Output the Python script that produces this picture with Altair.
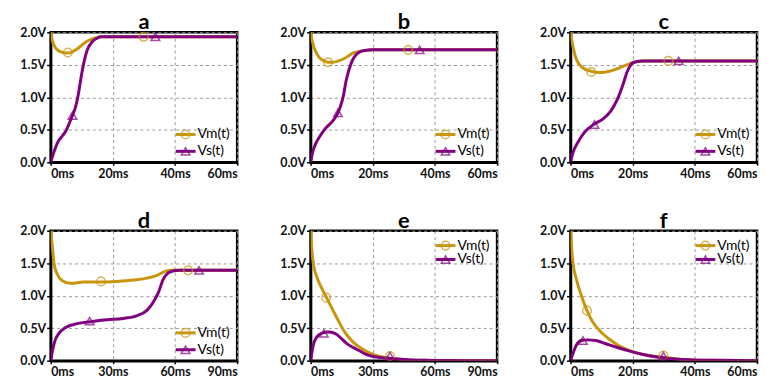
import altair as alt
import pandas as pd

GOLD = "#C8960C"
PURPLE = "#800080"

# ---- panel a ----
a_vm_t = [0, 0.5, 1.3, 2.8, 4, 5.5, 7, 8.1, 9.5, 10.7, 12, 13.4, 15, 16, 18, 20, 60]
a_vm_v = [2.0, 1.88, 1.78, 1.71, 1.69, 1.68, 1.70, 1.73, 1.78, 1.83, 1.87, 1.90, 1.92, 1.93, 1.93, 1.93, 1.93]
a_vs_t = [0, 1, 2.3, 4, 4.9, 6, 7, 8, 8.8, 9.5, 10.2, 11, 11.8, 12.8, 13.9, 15, 16, 18, 20, 60]
a_vs_v = [0, 0.15, 0.31, 0.42, 0.48, 0.60, 0.72, 0.85, 1.02, 1.22, 1.42, 1.60, 1.73, 1.82, 1.88, 1.91, 1.93, 1.93, 1.93, 1.93]
a_vm_mark_t = [5.5, 29.9]
a_vm_mark_v = [1.69, 1.93]
a_vs_mark_t = [7, 33.7]
a_vs_mark_v = [0.72, 1.93]

# ---- panel b ----
b_vm_t = [0, 0.6, 1.4, 3, 4, 5.6, 7, 8.3, 11, 13.6, 16.3, 18, 20, 60]
b_vm_v = [2.0, 1.85, 1.73, 1.60, 1.57, 1.54, 1.54, 1.55, 1.60, 1.68, 1.71, 1.72, 1.73, 1.73]
b_vs_t = [0, 0.8, 1.9, 3, 4.6, 7.2, 8.8, 9.6, 10.4, 11.5, 13.1, 15.2, 17.3, 20, 60]
b_vs_v = [0, 0.18, 0.31, 0.40, 0.51, 0.64, 0.76, 0.86, 0.99, 1.27, 1.53, 1.68, 1.72, 1.73, 1.73]
b_vm_mark_t = [5.6, 31.4]
b_vm_mark_v = [1.54, 1.73]
b_vs_mark_t = [8.8, 35.1]
b_vs_mark_v = [0.76, 1.73]

# ---- panel c ----
c_vm_t = [0, 0.8, 1.9, 4, 6.7, 9.3, 12.5, 15.6, 18.8, 21.4, 23, 60]
c_vm_v = [2.0, 1.78, 1.58, 1.45, 1.40, 1.38, 1.40, 1.45, 1.51, 1.55, 1.56, 1.56]
c_vs_t = [0, 0.8, 2.4, 4.5, 7.7, 10.3, 13, 15.1, 16.7, 18.3, 20, 21.5, 23, 60]
c_vs_v = [0, 0.15, 0.31, 0.46, 0.59, 0.66, 0.79, 0.97, 1.17, 1.40, 1.53, 1.55, 1.56, 1.56]
c_vm_mark_t = [6.7, 31.5]
c_vm_mark_v = [1.39, 1.56]
c_vs_mark_t = [7.7, 34.8]
c_vs_mark_v = [0.58, 1.56]

# ---- panel d ----
d_vm_t = [0, 0.8, 1.6, 3.2, 5.6, 9.6, 16, 24, 32, 40, 46.3, 51, 55, 58.3, 60, 90]
d_vm_v = [2.0, 1.76, 1.50, 1.33, 1.23, 1.19, 1.21, 1.21, 1.22, 1.24, 1.27, 1.31, 1.37, 1.39, 1.39, 1.39]
d_vs_t = [0, 0.8, 1.9, 4, 7.2, 12.8, 19.2, 27, 35, 41.5, 46.3, 49.5, 52, 54.3, 56.7, 59, 62, 90]
d_vs_v = [0, 0.14, 0.29, 0.42, 0.51, 0.57, 0.60, 0.63, 0.65, 0.69, 0.77, 0.90, 1.05, 1.25, 1.35, 1.38, 1.39, 1.39]
d_vm_mark_t = [24.3, 66.3]
d_vm_mark_v = [1.22, 1.39]
d_vs_mark_t = [18.8, 71.6]
d_vs_mark_v = [0.61, 1.39]

# ---- panel e ----
e_vm_t = [0, 0.5, 1.3, 2.9, 5.3, 7.7, 10.1, 13.3, 16.5, 20.4, 24.4, 29.2, 34, 38.8, 46.8, 55, 65, 90]
e_vm_v = [2.0, 1.76, 1.50, 1.30, 1.12, 0.97, 0.82, 0.62, 0.44, 0.29, 0.19, 0.11, 0.06, 0.035, 0.015, 0.006, 0.002, 0]
e_vs_t = [0, 1.3, 2.9, 5.3, 8.5, 11.7, 14.9, 18, 22, 26, 30.8, 38.8, 46.8, 55, 65, 90]
e_vs_v = [0, 0.24, 0.36, 0.42, 0.44, 0.42, 0.34, 0.25, 0.18, 0.11, 0.06, 0.035, 0.015, 0.006, 0.002, 0]
e_vm_mark_t = [7.5, 38.3]
e_vm_mark_v = [0.97, 0.07]
e_vs_mark_t = [6.4, 38.3]
e_vs_mark_v = [0.42, 0.07]

# ---- panel f ----
f_vm_t = [0, 0.3, 0.8, 1.9, 3.5, 5.3, 7.2, 9.8, 12.5, 15.6, 19.9, 25.1, 29.9, 35.7, 45, 60]
f_vm_v = [2.0, 1.76, 1.50, 1.25, 1.00, 0.77, 0.59, 0.44, 0.33, 0.23, 0.14, 0.08, 0.05, 0.02, 0.005, 0]
f_vs_t = [0, 0.8, 1.9, 3.5, 5.6, 8.2, 11.4, 14.6, 18.8, 23, 27.2, 31.5, 37.8, 45, 60]
f_vs_v = [0, 0.11, 0.24, 0.31, 0.32, 0.31, 0.26, 0.21, 0.15, 0.10, 0.06, 0.035, 0.015, 0.005, 0]
f_vm_mark_t = [5.3, 29.9]
f_vm_mark_v = [0.77, 0.08]
f_vs_mark_t = [4.0, 29.9]
f_vs_mark_v = [0.31, 0.07]

SERIES = ["Vm(t)", "Vs(t)"]
Y_TICKS = [0, 0.5, 1, 1.5, 2]
W, H = 188, 131


def make_panel(title, xmax, xticks, vm_t, vm_v, vs_t, vs_v,
               vm_mt, vm_mv, vs_mt, vs_mv, legend_top):
    lines = pd.DataFrame({
        "t": vm_t + vs_t,
        "v": vm_v + vs_v,
        "s": [SERIES[0]] * len(vm_t) + [SERIES[1]] * len(vs_t),
    })
    x = alt.X("t:Q", scale=alt.Scale(domain=[0, xmax], nice=False),
              axis=alt.Axis(values=xticks, tickCount=len(xticks), labelOverlap=False,
                            labelExpr="datum.value + 'ms'", title=None))
    y = alt.Y("v:Q", scale=alt.Scale(domain=[0, 2], nice=False),
              axis=alt.Axis(values=Y_TICKS, tickCount=len(Y_TICKS), labelOverlap=False,
                            labelExpr="format(datum.value, '.1f') + 'V'", title=None))
    color = alt.Color("s:N", scale=alt.Scale(domain=SERIES, range=[GOLD, PURPLE]), legend=None)

    line = alt.Chart(lines).mark_line(strokeWidth=3, interpolate="monotone", clip=True).encode(
        x=x, y=y, color=color)
    circ = alt.Chart(pd.DataFrame({"t": vm_mt, "v": vm_mv})).mark_point(
        shape="circle", filled=False, size=75, strokeWidth=1.5, color=GOLD).encode(x="t:Q", y="v:Q")
    tri = alt.Chart(pd.DataFrame({"t": vs_mt, "v": vs_mv})).mark_point(
        shape="triangle-up", filled=False, size=75, strokeWidth=1.5, color=PURPLE).encode(x="t:Q", y="v:Q")

    if legend_top:
        y1, y2 = 15, 29
    else:
        y1, y2 = H - 28, H - 11
    one = pd.DataFrame({"k": [0]})
    leg = []
    for yy, col, shp, lab in [(y1, GOLD, "circle", SERIES[0]), (y2, PURPLE, "triangle-up", SERIES[1])]:
        leg.append(alt.Chart(one).mark_rule(color=col, strokeWidth=3).encode(
            x=alt.value(126), x2=alt.value(146), y=alt.value(yy)))
        leg.append(alt.Chart(one).mark_point(shape=shp, filled=False, size=75, strokeWidth=1.5,
                                             color=col).encode(x=alt.value(136), y=alt.value(yy)))
        leg.append(alt.Chart(one).mark_text(text=lab, align="left", baseline="middle", fontSize=14,
                                            font="Lato", color="#000").encode(
            x=alt.value(148), y=alt.value(yy)))

    return alt.layer(line, circ, tri, *leg).properties(
        width=W, height=H,
        title=alt.TitleParams(title, fontSize=22, font="Lato", fontWeight="bold", offset=-8, color="#000"),
    )


pa = make_panel("a", 60, [0, 20, 40, 60], a_vm_t, a_vm_v, a_vs_t, a_vs_v,
                a_vm_mark_t, a_vm_mark_v, a_vs_mark_t, a_vs_mark_v, False)
pb = make_panel("b", 60, [0, 20, 40, 60], b_vm_t, b_vm_v, b_vs_t, b_vs_v,
                b_vm_mark_t, b_vm_mark_v, b_vs_mark_t, b_vs_mark_v, False)
pc = make_panel("c", 60, [0, 20, 40, 60], c_vm_t, c_vm_v, c_vs_t, c_vs_v,
                c_vm_mark_t, c_vm_mark_v, c_vs_mark_t, c_vs_mark_v, False)
pd_ = make_panel("d", 90, [0, 30, 60, 90], d_vm_t, d_vm_v, d_vs_t, d_vs_v,
                 d_vm_mark_t, d_vm_mark_v, d_vs_mark_t, d_vs_mark_v, False)
pe = make_panel("e", 90, [0, 30, 60, 90], e_vm_t, e_vm_v, e_vs_t, e_vs_v,
                e_vm_mark_t, e_vm_mark_v, e_vs_mark_t, e_vs_mark_v, True)
pf = make_panel("f", 60, [0, 20, 40, 60], f_vm_t, f_vm_v, f_vs_t, f_vs_v,
                f_vm_mark_t, f_vm_mark_v, f_vs_mark_t, f_vs_mark_v, True)

chart = alt.vconcat(
    alt.hconcat(pa, pb, pc, spacing=30),
    alt.hconcat(pd_, pe, pf, spacing=30),
    spacing=27,
).properties(
    padding={"left": 1, "top": 0, "right": 0, "bottom": 0}
).configure_view(
    stroke="black", strokeWidth=2.5
).configure_axis(
    domainColor="black", domainWidth=2.5,
    gridDash=[3, 3], gridColor="#999999", gridWidth=1,
    labelFont="Lato", labelFontWeight="bold", labelFontSize=12.5, labelColor="#111111",
    tickColor="black", tickWidth=1.5,
).configure_axisY(
    minExtent=40, maxExtent=40, tickSize=4, labelPadding=1,
).configure_axisX(
    tickSize=3, labelPadding=2,
)

chart.save("out.html", embed_options={"renderer": "svg", "actions": False})
